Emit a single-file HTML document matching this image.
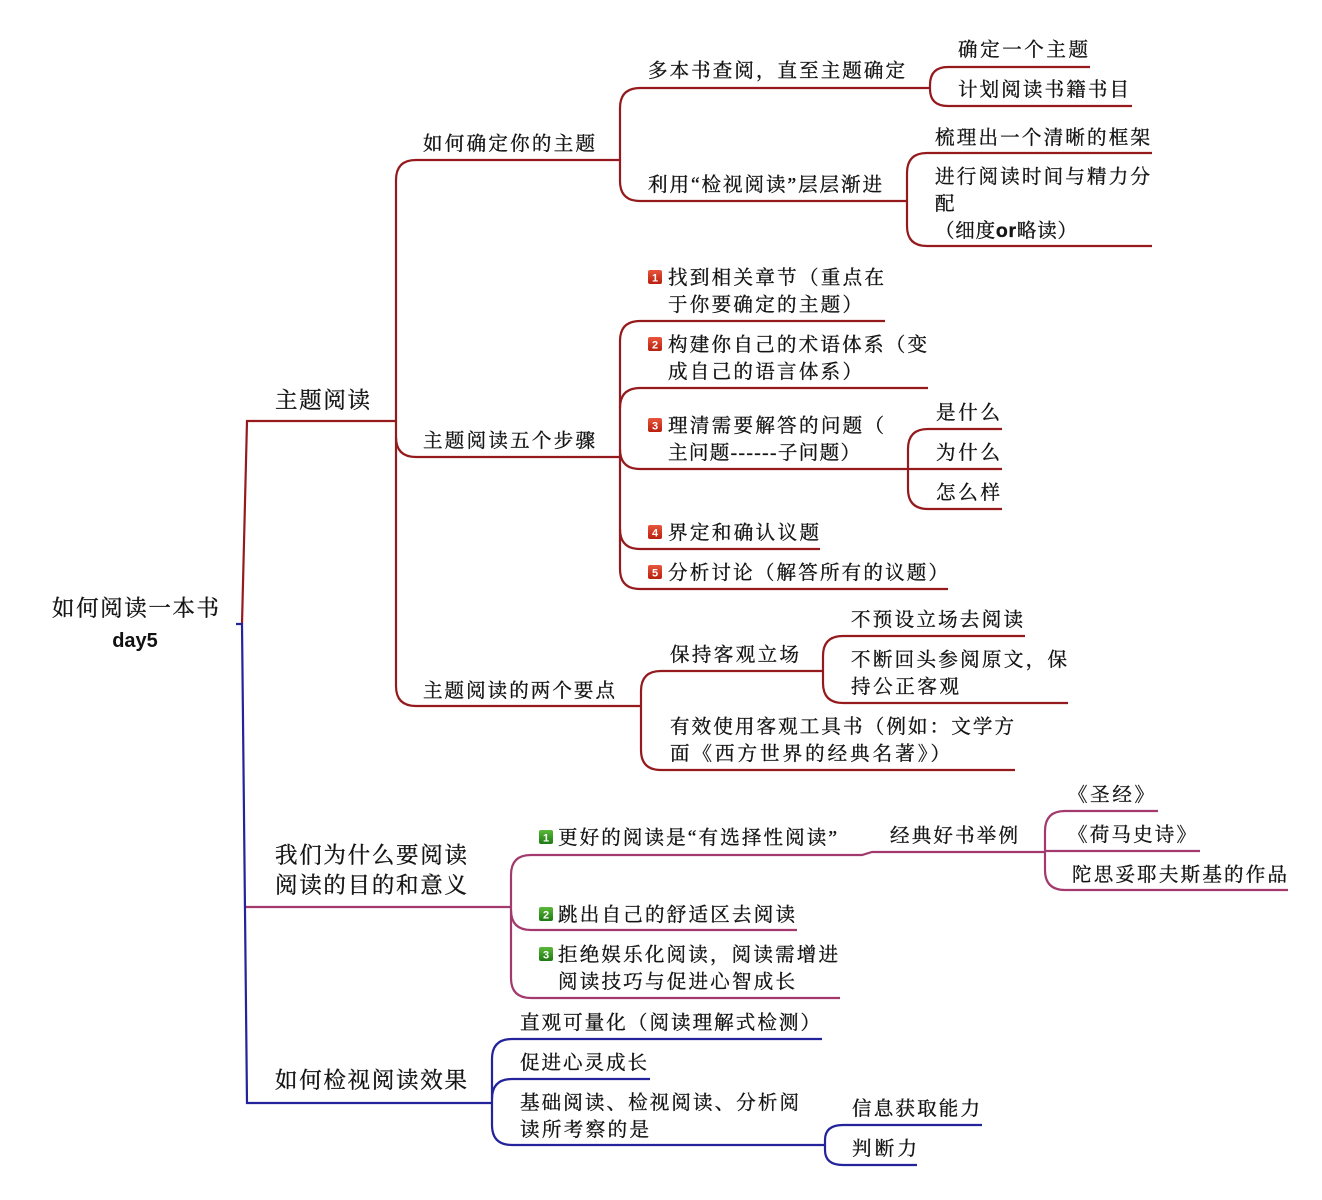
<!DOCTYPE html>
<html><head><meta charset="utf-8"><style>
html,body{margin:0;padding:0;background:#fff;}
svg{display:block;}
text{font-family:"Liberation Serif","Noto Serif CJK SC","Noto Sans CJK SC",serif;fill:#151515;stroke:#151515;stroke-width:0.35px;}
.s{font-size:19.5px;}
.b{font-size:22.5px;}
.n{font-family:"Liberation Sans",sans-serif;font-size:11px;font-weight:bold;fill:#fff;stroke:none;}
</style></head><body>
<svg width="1322" height="1200" viewBox="0 0 1322 1200" xmlns="http://www.w3.org/2000/svg">
<g fill="none" stroke-width="2.2" stroke-linecap="butt">
<!-- RED -->
<g stroke="#951a1e">
<path d="M242,624 L247,421 L396,421"/>
<path d="M416,160 Q396,160 396,180 L396,686 Q396,706 416,706 L641,706"/>
<path d="M416,160 L620,160"/>
<path d="M396,437 Q396,457 416,457 L620,457"/>
<path d="M640,88 Q620,88 620,108 L620,181 Q620,201 640,201"/>
<path d="M640,88 L930,88"/>
<path d="M640,201 L907,201"/>
<path d="M948,67 Q930,67 930,85 L930,88 L930,89 Q930,106 948,106"/>
<path d="M948,67 L1090,67"/>
<path d="M948,106 L1132,106"/>
<path d="M927,153 Q907,153 907,173 L907,226 Q907,246 927,246"/>
<path d="M927,153 L1152,153"/>
<path d="M927,246 L1152,246"/>
<path d="M640,321 Q620,321 620,341 L620,569 Q620,589 640,589"/>
<path d="M640,321 L885,321"/>
<path d="M620,408 Q620,388 640,388 L928,388"/>
<path d="M620,449 Q620,469 640,469 L1002,469"/>
<path d="M620,529 Q620,549 640,549 L820,549"/>
<path d="M640,589 L948,589"/>
<path d="M928,429 Q908,429 908,449 L908,489 Q908,509 928,509"/>
<path d="M928,429 L1002,429"/>
<path d="M928,509 L1002,509"/>
<path d="M661,671 Q641,671 641,691 L641,750 Q641,770 661,770"/>
<path d="M661,671 L823,671"/>
<path d="M661,770 L1015,770"/>
<path d="M843,636 Q823,636 823,656 L823,683 Q823,703 843,703"/>
<path d="M843,636 L1025,636"/>
<path d="M843,703 L1068,703"/>
</g>
<!-- PURPLE -->
<g stroke="#a23a6e">
<path d="M245,907 L511,907"/>
<path d="M531,855 Q511,855 511,875 L511,978 Q511,998 531,998 L840,998"/>
<path d="M531,855 L862,855 L872,852 L1045,852"/>
<path d="M511,910 Q511,930 531,930 L797,930"/>
<path d="M1065,811 Q1045,811 1045,831 L1045,870 Q1045,890 1065,890 L1288,890"/>
<path d="M1065,811 L1158,811"/>
<path d="M1045,851 L1200,851"/>
</g>
<!-- BLUE -->
<g stroke="#23239c">
<path d="M236,624 L242,624 L247,1103 L492,1103"/>
<path d="M512,1039 Q492,1039 492,1059 L492,1125 Q492,1145 512,1145 L825,1145"/>
<path d="M512,1039 L822,1039"/>
<path d="M492,1099 Q492,1079 512,1079 L650,1079"/>
<path d="M843,1125 Q825,1125 825,1140 L825,1150 Q825,1165 843,1165 L917,1165"/>
<path d="M843,1125 L982,1125"/>
</g>
</g>

<defs>
<linearGradient id="gr" x1="0" y1="0" x2="0" y2="1"><stop offset="0" stop-color="#e8553c"/><stop offset="1" stop-color="#b8200e"/></linearGradient>
<linearGradient id="gg" x1="0" y1="0" x2="0" y2="1"><stop offset="0" stop-color="#5cb83a"/><stop offset="1" stop-color="#1e7a12"/></linearGradient>
</defs>
<g>
<rect x="648" y="270" width="14" height="14" rx="2" fill="url(#gr)"/><text class="n" x="655" y="281.5" text-anchor="middle">1</text>
<rect x="648" y="337" width="14" height="14" rx="2" fill="url(#gr)"/><text class="n" x="655" y="348.5" text-anchor="middle">2</text>
<rect x="648" y="418" width="14" height="14" rx="2" fill="url(#gr)"/><text class="n" x="655" y="429.5" text-anchor="middle">3</text>
<rect x="648" y="525" width="14" height="14" rx="2" fill="url(#gr)"/><text class="n" x="655" y="536.5" text-anchor="middle">4</text>
<rect x="648" y="565" width="14" height="14" rx="2" fill="url(#gr)"/><text class="n" x="655" y="576.5" text-anchor="middle">5</text>
<rect x="539" y="830" width="14" height="14" rx="2" fill="url(#gg)"/><text class="n" x="546" y="841.5" text-anchor="middle">1</text>
<rect x="539" y="907" width="14" height="14" rx="2" fill="url(#gg)"/><text class="n" x="546" y="918.5" text-anchor="middle">2</text>
<rect x="539" y="947" width="14" height="14" rx="2" fill="url(#gg)"/><text class="n" x="546" y="958.5" text-anchor="middle">3</text>
</g>

<text class="b" x="52" y="616" textLength="167" lengthAdjust="spacing">如何阅读一本书</text>
<text x="135" y="647" text-anchor="middle" style="font-family:'Liberation Sans',sans-serif;font-size:20px;font-weight:bold;fill:#111;stroke:none;">day5</text>

<text class="b" x="275" y="408" textLength="95" lengthAdjust="spacing">主题阅读</text>
<text class="b" x="275" y="863" textLength="192" lengthAdjust="spacing">我们为什么要阅读</text>
<text class="b" x="275" y="893" textLength="192" lengthAdjust="spacing">阅读的目的和意义</text>
<text class="b" x="275" y="1088" textLength="192" lengthAdjust="spacing">如何检视阅读效果</text>

<text class="s" x="423" y="150" textLength="172" lengthAdjust="spacing">如何确定你的主题</text>
<text class="s" x="423" y="447" textLength="172" lengthAdjust="spacing">主题阅读五个步骤</text>
<text class="s" x="423" y="697" textLength="192" lengthAdjust="spacing">主题阅读的两个要点</text>

<text class="s" x="648" y="77" textLength="257" lengthAdjust="spacing">多本书查阅，直至主题确定</text>
<text class="s" x="648" y="191" textLength="234" lengthAdjust="spacing">利用“检视阅读”层层渐进</text>
<text class="s" x="958" y="56" textLength="130" lengthAdjust="spacing">确定一个主题</text>
<text class="s" x="958" y="96" textLength="171" lengthAdjust="spacing">计划阅读书籍书目</text>
<text class="s" x="935" y="144" textLength="215" lengthAdjust="spacing">梳理出一个清晰的框架</text>
<text class="s" x="935" y="183" textLength="215" lengthAdjust="spacing">进行阅读时间与精力分</text>
<text class="s" x="935" y="210">配</text>
<text class="s" x="935" y="237" textLength="142" lengthAdjust="spacing">（细度<tspan style="font-family:'Liberation Sans',sans-serif;font-weight:bold;">or</tspan>略读）</text>

<text class="s" x="668" y="284" textLength="216" lengthAdjust="spacing">找到相关章节（重点在</text>
<text class="s" x="668" y="311" textLength="194" lengthAdjust="spacing">于你要确定的主题）</text>
<text class="s" x="668" y="351" textLength="259" lengthAdjust="spacing">构建你自己的术语体系（变</text>
<text class="s" x="668" y="378" textLength="194" lengthAdjust="spacing">成自己的语言体系）</text>
<text class="s" x="668" y="432" textLength="216" lengthAdjust="spacing">理清需要解答的问题（</text>
<text class="s" x="668" y="459" textLength="192" lengthAdjust="spacing">主问题------子问题）</text>
<text class="s" x="668" y="539" textLength="151" lengthAdjust="spacing">界定和确认议题</text>
<text class="s" x="668" y="579" textLength="280" lengthAdjust="spacing">分析讨论（解答所有的议题）</text>
<text class="s" x="936" y="419" textLength="64" lengthAdjust="spacing">是什么</text>
<text class="s" x="936" y="459" textLength="64" lengthAdjust="spacing">为什么</text>
<text class="s" x="936" y="499" textLength="64" lengthAdjust="spacing">怎么样</text>

<text class="s" x="670" y="661" textLength="129" lengthAdjust="spacing">保持客观立场</text>
<text class="s" x="851" y="626" textLength="172" lengthAdjust="spacing">不预设立场去阅读</text>
<text class="s" x="851" y="666" textLength="216" lengthAdjust="spacing">不断回头参阅原文，保</text>
<text class="s" x="851" y="693" textLength="108" lengthAdjust="spacing">持公正客观</text>
<text class="s" x="670" y="733" textLength="344" lengthAdjust="spacing">有效使用客观工具书（例如：文学方</text>
<text class="s" x="670" y="760" textLength="280" lengthAdjust="spacing">面《西方世界的经典名著》）</text>

<text class="s" x="558" y="844" textLength="279" lengthAdjust="spacing">更好的阅读是“有选择性阅读”</text>
<text class="s" x="890" y="842" textLength="128" lengthAdjust="spacing">经典好书举例</text>
<text class="s" x="1068" y="801" textLength="86" lengthAdjust="spacing">《圣经》</text>
<text class="s" x="1068" y="841" textLength="128" lengthAdjust="spacing">《荷马史诗》</text>
<text class="s" x="1072" y="881" textLength="215" lengthAdjust="spacing">陀思妥耶夫斯基的作品</text>
<text class="s" x="558" y="921" textLength="237" lengthAdjust="spacing">跳出自己的舒适区去阅读</text>
<text class="s" x="558" y="961" textLength="280" lengthAdjust="spacing">拒绝娱乐化阅读，阅读需增进</text>
<text class="s" x="558" y="988" textLength="237" lengthAdjust="spacing">阅读技巧与促进心智成长</text>

<text class="s" x="520" y="1029" textLength="300" lengthAdjust="spacing">直观可量化（阅读理解式检测）</text>
<text class="s" x="520" y="1069" textLength="127" lengthAdjust="spacing">促进心灵成长</text>
<text class="s" x="520" y="1109" textLength="279" lengthAdjust="spacing">基础阅读、检视阅读、分析阅</text>
<text class="s" x="520" y="1136" textLength="129" lengthAdjust="spacing">读所考察的是</text>
<text class="s" x="852" y="1115" textLength="128" lengthAdjust="spacing">信息获取能力</text>
<text class="s" x="852" y="1155" textLength="65" lengthAdjust="spacing">判断力</text>
</svg>
</body></html>
